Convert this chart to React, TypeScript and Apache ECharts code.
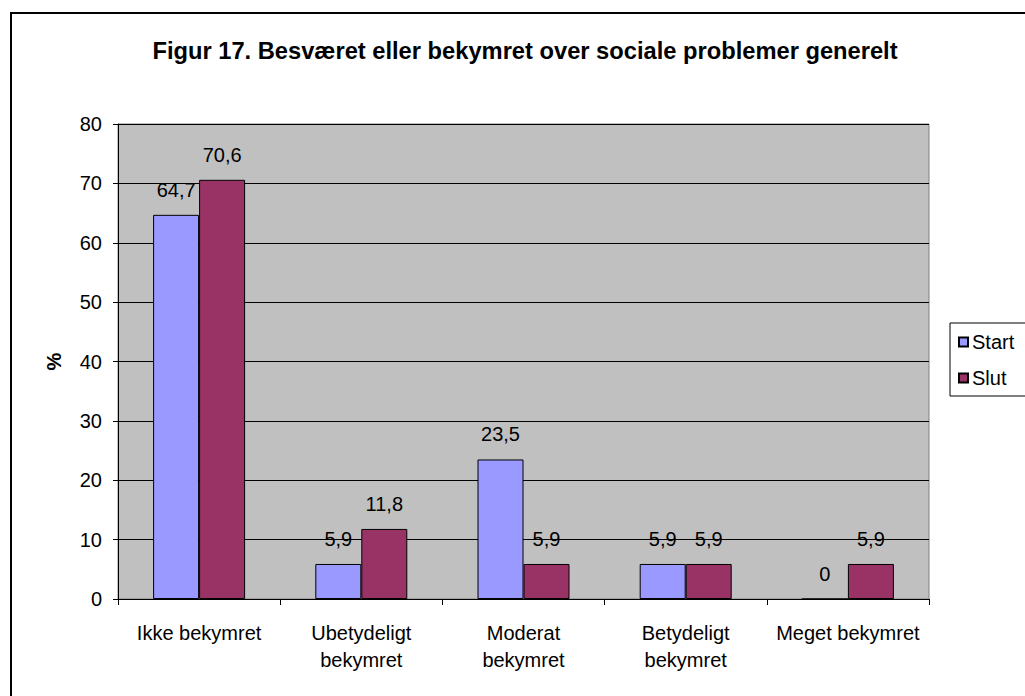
import React, { useEffect, useRef } from "react";
import * as echarts from "echarts";

const categories = [
  "Ikke bekymret",
  "Ubetydeligt\nbekymret",
  "Moderat\nbekymret",
  "Betydeligt\nbekymret",
  "Meget bekymret",
];
const startValues = [64.7, 5.9, 23.5, 5.9, 0];
const slutValues = [70.6, 11.8, 5.9, 5.9, 5.9];
const yTicks = { min: 0, max: 80, interval: 10 };

const FONT = "'Liberation Sans', Arial, sans-serif";

const fmt = (v: number) => String(v).replace(".", ",");

export default function App() {
  const ref = useRef<HTMLDivElement>(null);

  useEffect(() => {
    if (!ref.current) return;
    const chart = echarts.init(ref.current, undefined, { renderer: "svg" });

    const label = {
      show: true,
      position: "top" as const,
      distance: 15,
      color: "#000",
      fontFamily: FONT,
      fontSize: 20,
      formatter: (p: any) => fmt(p.value),
    };

    chart.setOption({
      animation: false,
      backgroundColor: "#ffffff",
      textStyle: { fontFamily: FONT },
      graphic: [
        {
          type: "rect",
          shape: { x: 11, y: 13, width: 1040, height: 720 },
          style: { fill: "none", stroke: "#000", lineWidth: 2 },
          z: 100,
          silent: true,
        },
      ],
      title: {
        text: "Figur 17. Besværet eller bekymret over sociale problemer generelt",
        left: 525,
        textAlign: "center",
        top: 39,
        padding: 0,
        textStyle: {
          fontFamily: FONT,
          fontSize: 23.7,
          fontWeight: "bold",
          color: "#000",
        },
      },
      legend: {
        orient: "vertical",
        left: 950,
        top: 323,
        padding: [9, 30, 8, 8],
        itemGap: 16,
        itemWidth: 9,
        itemHeight: 9,
        icon: "rect",
        borderColor: "#000",
        borderWidth: 1,
        backgroundColor: "#fff",
        textStyle: { fontFamily: FONT, fontSize: 20, color: "#000", padding: [0, 0, 0, -1] },
        data: ["Start", "Slut"],
      },
      grid: {
        left: 118,
        top: 124,
        width: 811,
        height: 475,
        show: true,
        backgroundColor: "#C0C0C0",
        borderColor: "#808080",
        borderWidth: 1,
      },
      xAxis: {
        type: "category",
        data: categories,
        axisLine: { show: true, lineStyle: { color: "#000", width: 1 } },
        axisTick: {
          show: true,
          alignWithLabel: false,
          length: 6,
          lineStyle: { color: "#000" },
        },
        axisLabel: {
          color: "#000",
          fontFamily: FONT,
          fontSize: 20,
          lineHeight: 27,
          margin: 20,
          interval: 0,
        },
      },
      yAxis: {
        type: "value",
        min: yTicks.min,
        max: yTicks.max,
        interval: yTicks.interval,
        name: "%",
        nameLocation: "middle",
        nameGap: 54,
        nameTextStyle: {
          fontFamily: FONT,
          fontSize: 20,
          fontWeight: "bold",
          color: "#000",
        },
        axisLine: { show: true, lineStyle: { color: "#000", width: 1 } },
        axisTick: { show: true, length: 5, lineStyle: { color: "#000" } },
        axisLabel: {
          color: "#000",
          fontFamily: FONT,
          fontSize: 20,
          margin: 16,
        },
        splitLine: { show: true, lineStyle: { color: "#000", width: 1 } },
      },
      series: [
        {
          name: "Start",
          type: "bar",
          data: startValues,
          barWidth: 46,
          barGap: "0%",
          itemStyle: { color: "#9999FF", borderColor: "#000", borderWidth: 1 },
          label,
        },
        {
          name: "Slut",
          type: "bar",
          data: slutValues,
          barWidth: 46,
          barGap: "0%",
          itemStyle: { color: "#993366", borderColor: "#000", borderWidth: 1 },
          label,
        },
      ],
    });

    return () => chart.dispose();
  }, []);

  return (
    <div
      ref={ref}
      style={{ position: "absolute", left: 0, top: 0, width: 1025, height: 696 }}
    />
  );
}
